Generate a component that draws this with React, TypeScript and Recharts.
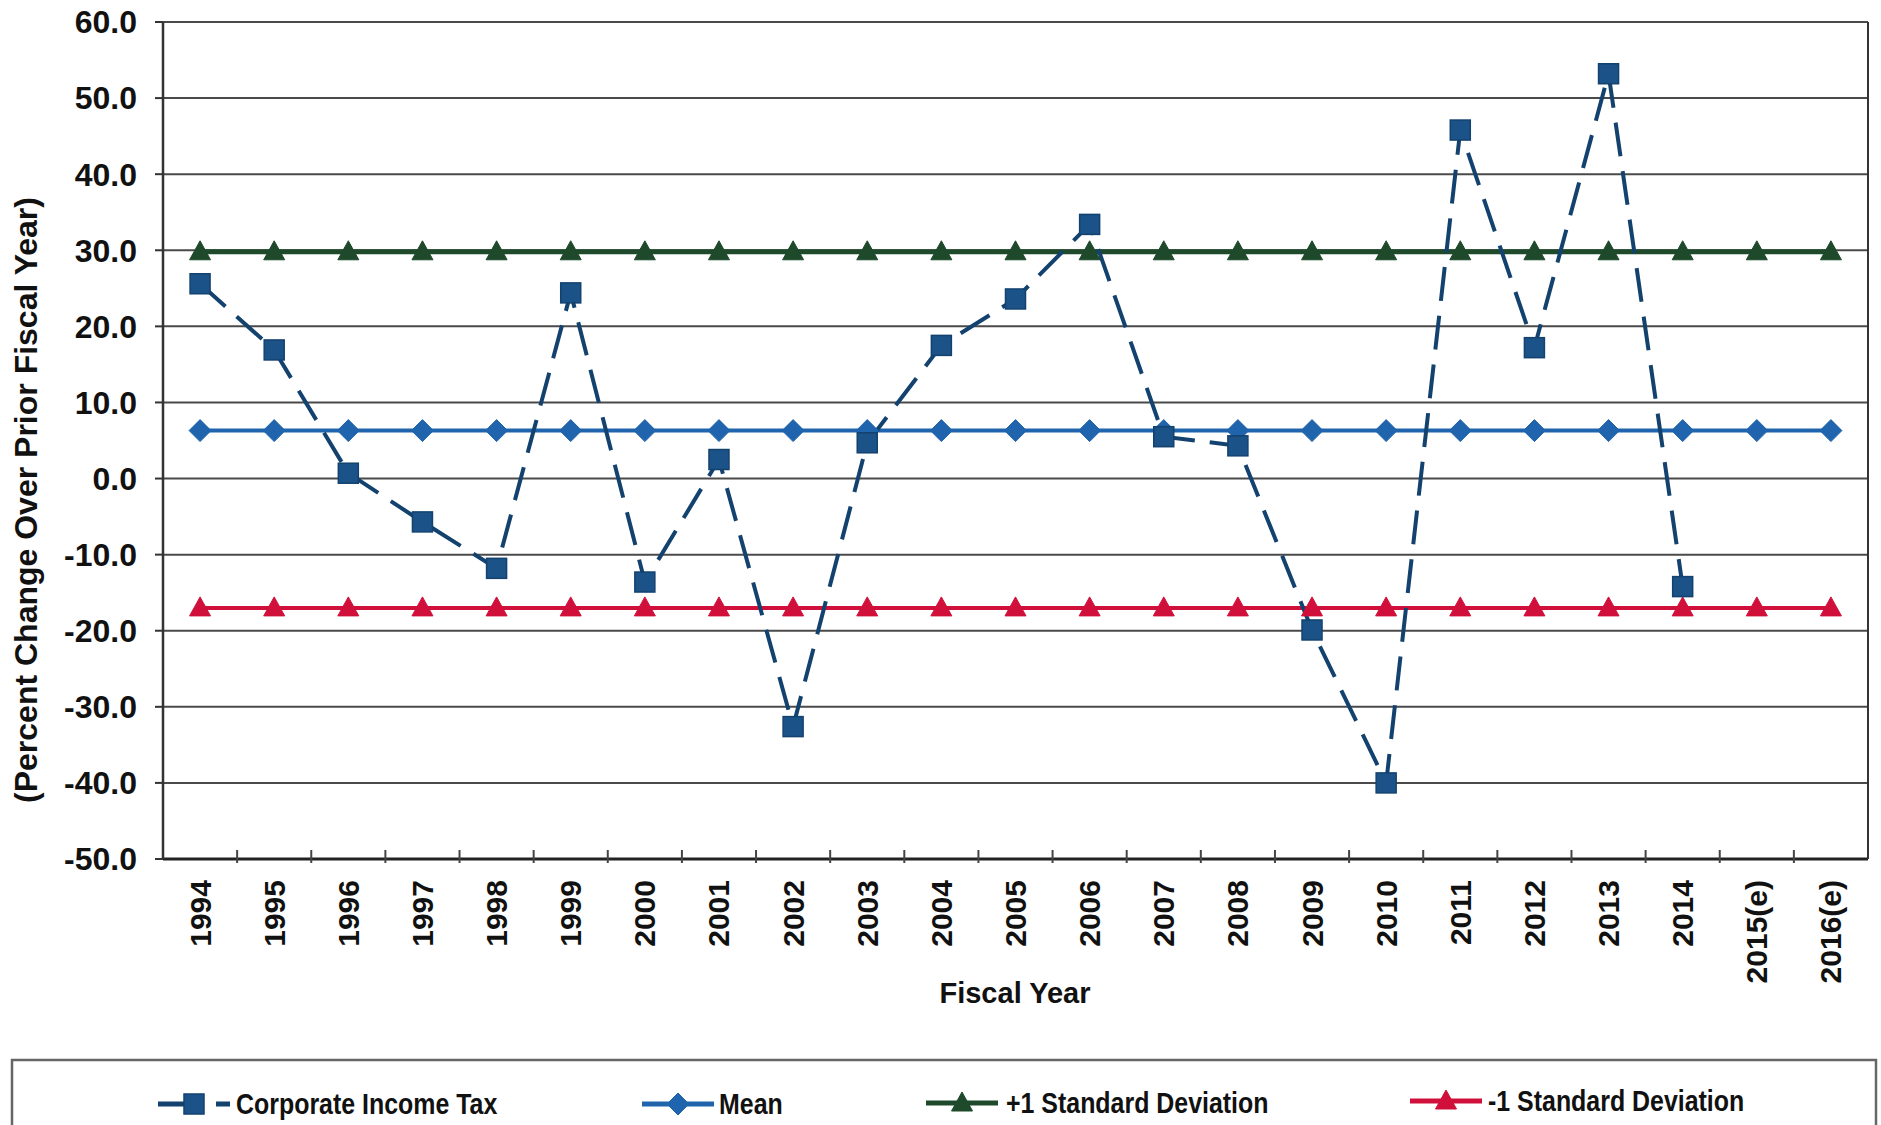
import { LineChart, Line, XAxis, YAxis, CartesianGrid } from 'recharts';

const years = [
  '1994', '1995', '1996', '1997', '1998', '1999', '2000', '2001', '2002', '2003', '2004', '2005',
  '2006', '2007', '2008', '2009', '2010', '2011', '2012', '2013', '2014', '2015(e)', '2016(e)',
];

// percent change over prior fiscal year, 1994 - 2014
const corporateIncomeTax = [
  25.6, 16.9, 0.7, -5.7, -11.8, 24.4, -13.6, 2.5, -32.6, 4.7, 17.5, 23.6, 33.4, 5.5, 4.3, -19.9,
  -40.0, 45.8, 17.2, 53.2, -14.2,
];

const meanLine = [
  6.3, 6.3, 6.3, 6.3, 6.3, 6.3, 6.3, 6.3, 6.3, 6.3, 6.3, 6.3, 6.3, 6.3, 6.3, 6.3, 6.3, 6.3, 6.3,
  6.3, 6.3, 6.3, 6.3,
];

const plusOneSd = [
  29.8, 29.8, 29.8, 29.8, 29.8, 29.8, 29.8, 29.8, 29.8, 29.8, 29.8, 29.8, 29.8, 29.8, 29.8, 29.8,
  29.8, 29.8, 29.8, 29.8, 29.8, 29.8, 29.8,
];

const minusOneSd = [
  -17.0, -17.0, -17.0, -17.0, -17.0, -17.0, -17.0, -17.0, -17.0, -17.0, -17.0, -17.0, -17.0, -17.0,
  -17.0, -17.0, -17.0, -17.0, -17.0, -17.0, -17.0, -17.0, -17.0,
];

const yTicks = [-50, -40, -30, -20, -10, 0, 10, 20, 30, 40, 50, 60];

const data = years.map((year, i) => ({
  year,
  cit: corporateIncomeTax[i] ?? null,
  mean: meanLine[i],
  plus: plusOneSd[i],
  minus: minusOneSd[i],
}));

const FONT = "'Liberation Sans', Arial, sans-serif";
const YEAR_GAP = 21;

const CIT_LINE = '#13426f';
const CIT_FILL = '#1b5288';
const MEAN = '#1f64ad';
const GREEN = '#1e4a2b';
const RED = '#d0103a';

type Marker = 'square' | 'diamond' | 'triangle';

function markerShape(kind: Marker, cx: number, cy: number, fill: string, stroke: string, key?: string) {
  if (kind === 'square') {
    return <rect key={key} x={cx - 10} y={cy - 10} width={20} height={20} fill={fill} stroke={stroke} strokeWidth={1.5} />;
  }
  if (kind === 'diamond') {
    return (
      <path
        key={key}
        d={`M${cx},${cy - 11} L${cx + 11},${cy} L${cx},${cy + 11} L${cx - 11},${cy} Z`}
        fill={fill}
        stroke={stroke}
        strokeWidth={1}
      />
    );
  }
  return (
    <path
      key={key}
      d={`M${cx},${cy - 11} L${cx + 10.5},${cy + 8} L${cx - 10.5},${cy + 8} Z`}
      fill={fill}
      stroke={stroke}
      strokeWidth={1}
    />
  );
}

const dotFor = (kind: Marker, fill: string, stroke: string) => (props: any) => {
  const { cx, cy, index } = props;
  if (cx == null || cy == null || Number.isNaN(cy)) return <g key={`e-${index}`} />;
  return markerShape(kind, cx, cy, fill, stroke, `m-${index}`);
};

const legendItems = [
  { name: 'Corporate Income Tax', color: CIT_LINE, fill: CIT_FILL, marker: 'square' as Marker, dashed: true, x: 158, textX: 236, y: 1104 },
  { name: 'Mean', color: MEAN, fill: MEAN, marker: 'diamond' as Marker, dashed: false, x: 642, textX: 719, y: 1104 },
  { name: '+1 Standard Deviation', color: GREEN, fill: GREEN, marker: 'triangle' as Marker, dashed: false, x: 926, textX: 1006, y: 1103 },
  { name: '-1 Standard Deviation', color: RED, fill: RED, marker: 'triangle' as Marker, dashed: false, x: 1410, textX: 1488, y: 1101 },
];

// year label, plus a short mark at the right edge of its band
const YearTick = (props: any) => {
  const { x, y, payload, index, visibleTicksCount } = props;
  const half = payload?.offset ?? 0;
  const axisY = y - YEAR_GAP;
  const last = index === visibleTicksCount - 1;
  return (
    <g>
      {!last && half > 0 && (
        <line x1={x + half} y1={axisY - 9} x2={x + half} y2={axisY + 4} stroke="#444" strokeWidth={2} />
      )}
      <text
        x={x}
        y={y}
        transform={`rotate(-90 ${x} ${y})`}
        textAnchor="end"
        dominantBaseline="central"
        fontFamily={FONT}
        fontSize={30}
        fontWeight={700}
        fill="#111"
      >
        {payload.value}
      </text>
    </g>
  );
};

export default function App() {
  return (
    <div style={{ position: 'absolute', left: 0, top: 0, width: 1881, height: 1125, background: '#fff' }}>
      <LineChart
        width={1881}
        height={1125}
        data={data}
        margin={{ top: 22, right: 12, left: 13, bottom: 116 }}
      >
        <XAxis
          dataKey="year"
          scale="band"
          interval={0}
          height={150}
          tickLine={false}
          tickSize={0}
          tickMargin={YEAR_GAP}
          axisLine={{ stroke: '#222', strokeWidth: 3 }}
          tick={<YearTick />}
        />
        <YAxis
          yAxisId="left"
          domain={[-50, 60]}
          ticks={yTicks}
          interval={0}
          width={150}
          tickFormatter={(v: number) => v.toFixed(1)}
          tick={{ fontFamily: FONT, fontSize: 32, fontWeight: 700, fill: '#111' }}
          tickLine={{ stroke: '#333', strokeWidth: 2 }}
          tickSize={8}
          tickMargin={18}
          axisLine={{ stroke: '#333', strokeWidth: 2.5 }}
        />
        <YAxis
          yAxisId="right"
          orientation="right"
          domain={[-50, 60]}
          width={1}
          tick={false}
          tickLine={false}
          axisLine={{ stroke: '#333', strokeWidth: 2 }}
        />
        <CartesianGrid yAxisId="left" vertical={false} stroke="#4a4a4a" strokeWidth={2} />
        <Line
          yAxisId="left"
          dataKey="plus"
          stroke={GREEN}
          strokeWidth={5}
          dot={dotFor('triangle', GREEN, GREEN)}
          activeDot={false}
          isAnimationActive={false}
        />
        <Line
          yAxisId="left"
          dataKey="minus"
          stroke={RED}
          strokeWidth={4}
          dot={dotFor('triangle', RED, RED)}
          activeDot={false}
          isAnimationActive={false}
        />
        <Line
          yAxisId="left"
          dataKey="mean"
          stroke={MEAN}
          strokeWidth={4}
          dot={dotFor('diamond', MEAN, MEAN)}
          activeDot={false}
          isAnimationActive={false}
        />
        <Line
          yAxisId="left"
          dataKey="cit"
          stroke={CIT_LINE}
          strokeWidth={4}
          strokeDasharray="34 15"
          dot={dotFor('square', CIT_FILL, CIT_LINE)}
          activeDot={false}
          isAnimationActive={false}
        />
      </LineChart>

      <svg
        width={1881}
        height={1125}
        style={{ position: 'absolute', left: 0, top: 0, pointerEvents: 'none' }}
      >
        <text
          transform="translate(26 500) rotate(-90)"
          textAnchor="middle"
          dominantBaseline="central"
          fontFamily={FONT}
          fontSize={32}
          fontWeight={700}
          fill="#111"
        >
          (Percent Change Over Prior Fiscal Year)
        </text>
        <text x={1015} y={1003} textAnchor="middle" fontFamily={FONT} fontSize={29} fontWeight={700} fill="#111">
          Fiscal Year
        </text>

        <rect x={12} y={1060} width={1864} height={90} fill="none" stroke="#666" strokeWidth={2.5} />
        {legendItems.map((item) => (
          <g key={item.name}>
            <line
              x1={item.x}
              y1={item.y}
              x2={item.x + 72}
              y2={item.y}
              stroke={item.color}
              strokeWidth={5}
              strokeDasharray={item.dashed ? '46 12 16' : undefined}
            />
            {markerShape(item.marker, item.x + 36, item.y, item.fill, item.color)}
            {/* condensed bold lettering */}
            <text
              transform={`translate(${item.textX} ${item.y}) scale(0.86 1)`}
              dominantBaseline="central"
              fontFamily={FONT}
              fontSize={29}
              fontWeight={700}
              fill="#111"
            >
              {item.name}
            </text>
          </g>
        ))}
      </svg>
    </div>
  );
}
